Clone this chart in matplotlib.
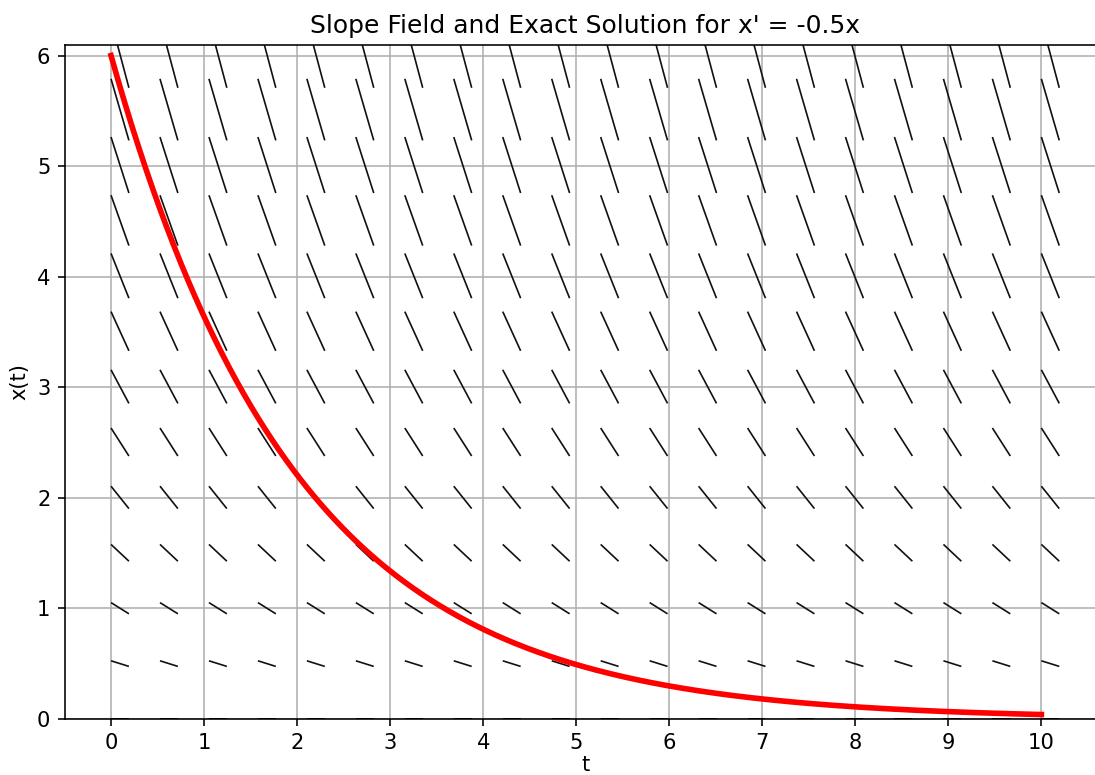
import matplotlib
matplotlib.use("Agg")
import matplotlib.pyplot as plt
import numpy as np

# ODE x' = rate * x, exact solution x(t) = x0 * exp(rate * t)
rate = -0.5
x0 = 6.0
t_grid = np.linspace(0, 10, 20)
x_grid = np.linspace(0, 10, 20)
t_curve = np.linspace(0, 10, 400)
x_ticks = list(range(0, 11))
y_ticks = list(range(0, 7))


def main() -> None:
    plt.rcParams["font.size"] = 10.5
    fig = plt.figure(figsize=(1095 / 144, 775 / 144), dpi=144)
    ax = fig.add_axes([64.5 / 1095, 56 / 775, 1042 / 1095, 674.5 / 775])

    T, X = np.meshgrid(t_grid, x_grid)
    U = np.ones_like(T)
    V = rate * X
    ax.quiver(
        T, X, U, V,
        angles="xy",
        scale_units="xy",
        scale=5.2,
        pivot="tail",
        headwidth=0,
        headlength=0,
        headaxislength=0,
        width=0.0016,
        color="#111111",
        zorder=2,
    )

    ax.plot(t_curve, x0 * np.exp(rate * t_curve), color="red", linewidth=2.8, zorder=3)

    ax.set_xlim(-0.5, 10.7)
    ax.set_ylim(0, 6.1)
    ax.set_xticks(x_ticks)
    ax.set_yticks(y_ticks)
    ax.set_title("Slope Field and Exact Solution for x' = -0.5x", fontsize=12.5)
    ax.set_xlabel("t", labelpad=1)
    ax.set_ylabel("x(t)")
    ax.grid(True)
    ax.set_axisbelow(True)

    fig.savefig("out.png", dpi=144)
    plt.close(fig)


if __name__ == "__main__":
    main()
